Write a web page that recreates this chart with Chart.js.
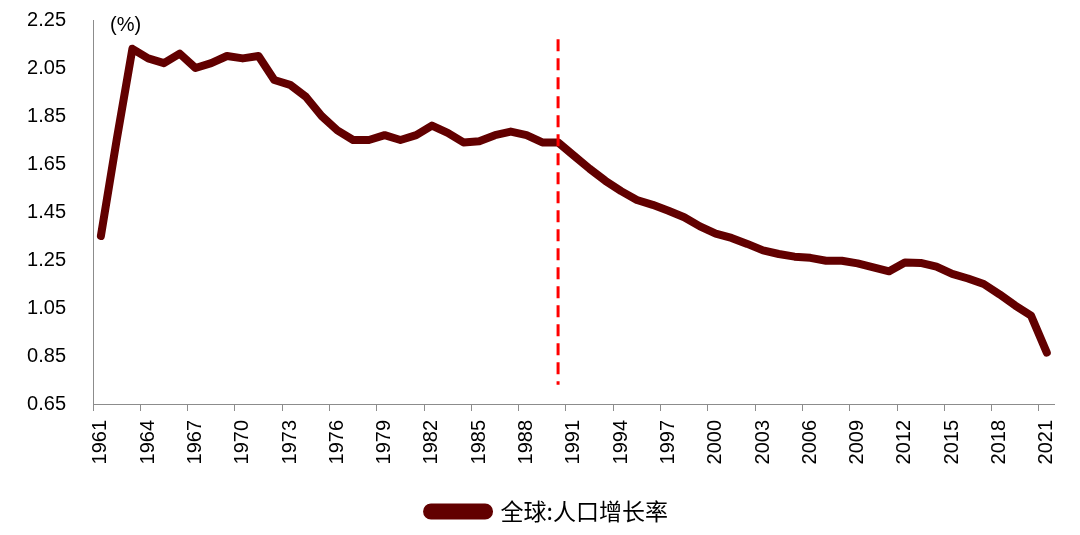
<!DOCTYPE html>
<html>
<head>
<meta charset="utf-8">
<script src="https://cdn.jsdelivr.net/npm/chart.js@4/dist/chart.umd.min.js"></script>
<style>
  html, body { margin: 0; padding: 0; background: #fff; }
  #wrap { width: 1080px; height: 535px; }
</style>
</head>
<body>
<div id="wrap"><canvas id="chart" width="1080" height="535"></canvas></div>
<script>
// years 1961..2021
const years = []
for (let y = 1961; y <= 2021; y++) years.push(String(y))

// 全球:人口增长率 (%)
const growth = [
  1.35, 1.75, 2.13, 2.09, 2.07, 2.11, 2.05, 2.07, 2.10, 2.09,
  2.10, 2.00, 1.98, 1.93, 1.85, 1.79, 1.75, 1.75, 1.77, 1.75,
  1.77, 1.81, 1.78, 1.74, 1.745, 1.77, 1.785, 1.77, 1.74, 1.74,
  1.685, 1.63, 1.58, 1.537, 1.50, 1.48, 1.455, 1.428, 1.39, 1.36,
  1.342, 1.317, 1.29, 1.275, 1.264, 1.259, 1.247, 1.247, 1.236, 1.219,
  1.203, 1.24, 1.238, 1.222, 1.192, 1.173, 1.15, 1.107, 1.06, 1.018,
  0.864
]

const yTicks = [0.65, 0.85, 1.05, 1.25, 1.45, 1.65, 1.85, 2.05, 2.25]
const markerYear = '1990'
const markerRange = [2.17, 0.73]

const lineColor = '#620000'
const axisColor = '#8c8c8c'
const numFont = '"Liberation Sans", Arial, sans-serif'

const extras = {
  id: 'extras',
  beforeDraw(chart) {
    // centre the legend a bit right, like the original
    if (chart.legend) chart.legend.left = 40
  },
  afterDatasetsDraw(chart) {
    const {ctx, scales} = chart
    const x = scales.x.getPixelForValue(markerYear)
    ctx.save()
    ctx.strokeStyle = '#ff0000'
    ctx.lineWidth = 3
    ctx.setLineDash([12, 7])
    ctx.beginPath()
    ctx.moveTo(x, scales.y.getPixelForValue(markerRange[0]))
    ctx.lineTo(x, scales.y.getPixelForValue(markerRange[1]))
    ctx.stroke()
    ctx.restore()

    ctx.save()
    ctx.fillStyle = '#000'
    ctx.font = '20px ' + numFont
    ctx.textBaseline = 'middle'
    ctx.fillText('(%)', 110, 25)
    ctx.restore()
  }
}

new Chart(document.getElementById('chart'), {
  type: 'line',
  data: {
    labels: years,
    datasets: [{
      label: '全球:人口增长率',
      data: growth,
      borderColor: lineColor,
      backgroundColor: lineColor,
      borderWidth: 8,
      pointRadius: 0,
      tension: 0,
      borderJoinStyle: 'round',
      borderCapStyle: 'round'
    }]
  },
  options: {
    responsive: false,
    animation: false,
    layout: { padding: { left: 0, right: 25, top: 20, bottom: 2 } },
    plugins: {
      tooltip: { enabled: false },
      legend: {
        position: 'bottom',
        labels: {
          boxWidth: 62,
          boxHeight: 8,
          useBorderRadius: true,
          borderRadius: 4,
          padding: 10,
          color: '#000',
          font: { family: '"Noto Sans CJK SC", sans-serif', size: 23 }
        }
      }
    },
    scales: {
      x: {
        offset: true,
        grid: {
          offset: true,
          drawOnChartArea: false,
          drawTicks: true,
          tickLength: 7,
          color: (c) => (c.index % 3 === 0 ? axisColor : 'rgba(0,0,0,0)')
        },
        border: { color: axisColor, width: 1 },
        ticks: {
          autoSkip: false,
          minRotation: 90,
          maxRotation: 90,
          padding: 9,
          color: '#000',
          font: { family: numFont, size: 20 },
          callback: function (v, i) { return i % 3 === 0 ? this.getLabelForValue(v) : '' }
        },
        afterFit: (s) => { s.height = 86 }
      },
      y: {
        min: 0.65,
        max: 2.25,
        afterBuildTicks: (s) => { s.ticks = yTicks.map(v => ({ value: v })) },
        grid: { display: false, drawTicks: false },
        border: { color: axisColor, width: 1 },
        ticks: {
          padding: 27,
          color: '#000',
          font: { family: numFont, size: 20 },
          callback: (v) => v.toFixed(2)
        },
        afterFit: (s) => {
          s.width = 93
          s.paddingTop = 0
          s.paddingBottom = 0
        }
      }
    }
  },
  plugins: [extras]
})
</script>
</body>
</html>
